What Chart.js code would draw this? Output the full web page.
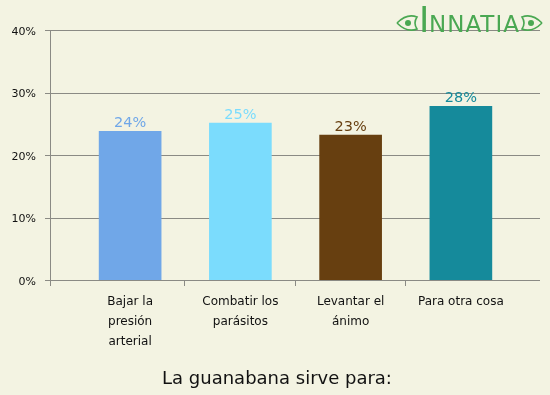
<!DOCTYPE html>
<html>
<head>
<meta charset="utf-8">
<script src="https://cdn.jsdelivr.net/npm/chart.js@4/dist/chart.umd.min.js"></script>
<style>
  html, body { margin: 0; padding: 0; background: #f3f3e2; }
  #wrap { width: 550px; height: 395px; }
</style>
</head>
<body>
<div id="wrap"><canvas id="chart" width="550" height="395"></canvas></div>
<script>
// ── Data ──────────────────────────────────────────────────────
const categories = [
  ['Bajar la', 'presión', 'arterial'],
  ['Combatir los', 'parásitos'],
  ['Levantar el', 'ánimo'],
  ['Para otra cosa']
];
const values     = [23.8, 25.1, 23.2, 27.8];
const barColors  = ['#70a7e8', '#7bdcfd', '#673f10', '#158a9b'];
const yTicks     = [0, 10, 20, 30, 40];
const chartTitle = 'La guanabana sirve para:';

// ── Styling constants ─────────────────────────────────────────
const BG        = '#f3f3e2';
const LINE      = '#8a8a84';
const FONT      = '"DejaVu Sans", Verdana, sans-serif';
const AXIS_X    = 50;   // where the y-axis line sits
const LINE_END  = 540;  // right end of the horizontal grid lines

// ── Background, grid and axes (wider than the bar area) ──────
const framePlugin = {
  id: 'frame',
  beforeDraw(chart) {
    const { ctx, scales: { x, y } } = chart;
    ctx.save();
    ctx.fillStyle = BG;
    ctx.fillRect(0, 0, chart.width, chart.height);

    ctx.strokeStyle = LINE;
    ctx.lineWidth = 1;
    ctx.beginPath();
    yTicks.forEach(v => {
      const py = Math.round(y.getPixelForValue(v)) + 0.5;
      ctx.moveTo(AXIS_X - 5, py);
      ctx.lineTo(LINE_END, py);
    });
    const top = Math.round(y.getPixelForValue(40));
    const bottom = Math.round(y.getPixelForValue(0));
    ctx.moveTo(AXIS_X + 0.5, top);
    ctx.lineTo(AXIS_X + 0.5, bottom + 6);
    for (let i = 0; i < categories.length - 1; i++) {
      const px = Math.round((x.getPixelForValue(i) + x.getPixelForValue(i + 1)) / 2) - 0.5;
      ctx.moveTo(px, bottom);
      ctx.lineTo(px, bottom + 6);
    }
    ctx.stroke();
    ctx.restore();
  },
  afterDraw(chart) {
    const { ctx } = chart;
    const meta = chart.getDatasetMeta(0);
    ctx.save();

    // value labels above bars
    ctx.font = '14.5px ' + FONT;
    ctx.textAlign = 'center';
    ctx.textBaseline = 'bottom';
    meta.data.forEach((bar, i) => {
      ctx.fillStyle = barColors[i];
      ctx.fillText(Math.round(values[i]) + '%', bar.x, bar.y - 1);
    });

    // title under the chart
    ctx.fillStyle = '#111';
    ctx.font = '18px ' + FONT;
    ctx.textBaseline = 'middle';
    ctx.fillText(chartTitle, 277, 379);

    // logo
    const green = '#4aa852';
    ctx.fillStyle = green;
    ctx.strokeStyle = green;
    ctx.textAlign = 'left';
    ctx.textBaseline = 'alphabetic';
    ctx.font = '35px ' + FONT;
    ctx.fillText('I', 419, 32);
    ctx.font = '23px ' + FONT;
    if ('letterSpacing' in ctx) ctx.letterSpacing = '1px';
    ctx.fillText('NNATIA', 429, 32);
    if ('letterSpacing' in ctx) ctx.letterSpacing = '0px';
    const ornament = (cx, dir) => {
      ctx.lineWidth = 1.6;
      ctx.beginPath();
      ctx.moveTo(cx - 10 * dir, 23);
      ctx.quadraticCurveTo(cx, 13, cx + 10 * dir, 17);
      ctx.quadraticCurveTo(cx + 6 * dir, 23, cx + 10 * dir, 29);
      ctx.quadraticCurveTo(cx, 33, cx - 10 * dir, 23);
      ctx.stroke();
      ctx.beginPath();
      ctx.arc(cx + 1 * dir, 23, 3, 0, Math.PI * 2);
      ctx.fill();
    };
    ornament(407, 1);
    ornament(532, -1);
    ctx.restore();
  }
};

// ── Chart ─────────────────────────────────────────────────────
new Chart(document.getElementById('chart'), {
  type: 'bar',
  data: {
    labels: categories,
    datasets: [{
      data:            values,
      backgroundColor: barColors,
      barThickness:    62,
      borderWidth:     0
    }]
  },
  options: {
    animation:  false,
    responsive: false,
    devicePixelRatio: 1,
    layout: { padding: { top: 30, right: 34, left: 0, bottom: 0 } },
    plugins: {
      legend:  { display: false },
      tooltip: { enabled: false },
      title:   { display: false }
    },
    scales: {
      x: {
        grid:   { display: false, drawTicks: false },
        border: { display: false },
        ticks: {
          color: '#111',
          padding: 12,
          maxRotation: 0,
          autoSkip: false,
          font: { family: FONT, size: 12, lineHeight: 20 / 12 }
        },
        afterFit(scale) { scale.height = 115; }
      },
      y: {
        min: 0,
        max: 40,
        grid:   { display: false, drawTicks: false },
        border: { display: false },
        ticks: {
          stepSize: 10,
          color: '#111',
          padding: 39,
          labelOffset: 2,
          font: { family: FONT, size: 11 },
          callback: v => v + '%'
        },
        afterFit(scale) {
          scale.width = 75;
          scale.paddingTop = 0;
          scale.paddingBottom = 0;
        }
      }
    }
  },
  plugins: [framePlugin]
});
</script>
</body>
</html>
